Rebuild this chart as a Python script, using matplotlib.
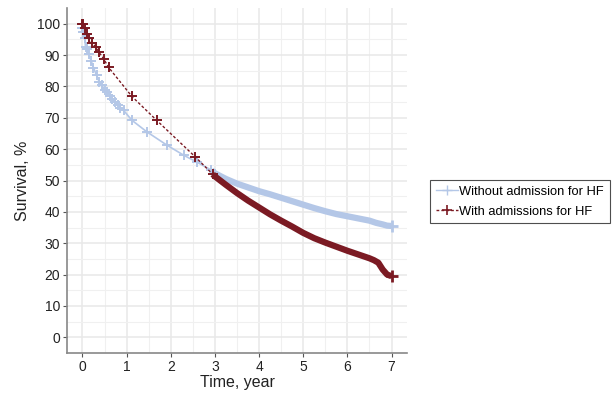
import matplotlib
matplotlib.use("Agg")
import matplotlib.pyplot as plt
from matplotlib.lines import Line2D
import numpy as np

plt.rcParams["font.family"] = ["Liberation Sans", "DejaVu Sans"]

# Without admission for HF
t_without = [0.0, 0.02, 0.05, 0.07, 0.1, 0.14, 0.2, 0.25, 0.32, 0.38, 0.44, 0.5, 0.56, 0.62, 0.68,
             0.74, 0.8, 0.86, 0.93, 1.12, 1.46, 1.91, 2.3, 2.6, 2.92,
             3.0, 3.25, 3.5, 3.75, 4.0, 4.25, 4.5, 4.75, 5.0, 5.25, 5.5, 5.75, 6.0, 6.25, 6.5,
             6.65, 6.8, 6.9, 7.0]
s_without = [98.5, 97.5, 95.5, 92.5, 92.0, 90.4, 88.0, 86.0, 83.5, 81.5, 80.3, 79.0, 78.2, 77.0, 76.0,
             75.0, 74.0, 73.2, 72.4, 69.2, 65.5, 61.3, 58.0, 55.8, 53.3,
             52.3, 50.5, 49.0, 47.8, 46.6, 45.6, 44.5, 43.4, 42.3, 41.2, 40.2, 39.3, 38.6, 37.9, 37.2,
             36.5, 36.0, 35.6, 35.5]

# With admissions for HF
t_with = [0.0, 0.01, 0.05, 0.1, 0.15, 0.22, 0.3, 0.37, 0.48, 0.59, 1.12, 1.68, 2.55, 2.95,
          3.0, 3.25, 3.5, 3.75, 4.0, 4.25, 4.5, 4.75, 5.0, 5.25, 5.5, 5.75, 6.0, 6.25, 6.5,
          6.6, 6.7, 6.8, 6.9, 7.0]
s_with = [100.0, 99.9, 98.5, 96.7, 95.5, 94.0, 92.5, 91.0, 88.8, 86.1, 76.8, 69.2, 57.6, 52.0,
          51.3, 48.6, 46.0, 43.6, 41.4, 39.2, 37.2, 35.3, 33.3, 31.6, 30.2, 28.9, 27.6, 26.4, 25.2,
          24.6, 23.8, 21.6, 20.0, 19.5]

x_ticks = [0, 1, 2, 3, 4, 5, 6, 7]
y_ticks = [0, 10, 20, 30, 40, 50, 60, 70, 80, 90, 100]

blue = "#b4c7e7"
red = "#7b1a23"

fig = plt.figure(figsize=(6.16, 3.93), dpi=100)
ax = fig.add_axes([67/616, 1-353/393, (407-67)/616, (353-8)/393])

ax.set_xlim(-0.35, 7.35)
ax.set_ylim(-5, 105)

ax.set_xticks(x_ticks)
ax.set_yticks(y_ticks)
ax.set_xticks(np.arange(0.5, 7, 1), minor=True)
ax.set_yticks(np.arange(5, 100, 10), minor=True)
ax.grid(True, which="major", color="#e8e8e8", lw=1.1)
ax.grid(True, which="minor", color="#f0f0f0", lw=0.8)
ax.set_axisbelow(True)
ax.tick_params(which="minor", length=0)
ax.tick_params(which="major", length=3, color="#555555", labelsize=10, labelcolor="#222222", pad=2)

for side in ["top", "right"]:
    ax.spines[side].set_visible(False)
for side in ["left", "bottom"]:
    ax.spines[side].set_color("#888888")
    ax.spines[side].set_linewidth(1.2)

tw = np.array(t_without); sw = np.array(s_without)
tr = np.array(t_with); sr = np.array(s_with)

# without
ax.plot(tw, sw, color=blue, lw=1.2, ls="-", zorder=3)
m = tw < 2.95
ax.plot(tw[m], sw[m], ls="none", marker="+", ms=7, mew=1.4, color=blue, zorder=3)
m2 = tw >= 2.92
ax.plot(tw[m2], sw[m2], color=blue, lw=4.5, solid_capstyle="butt", zorder=3)

# with
ax.plot(tr, sr, color=red, lw=1.0, ls=(0, (2, 1.5)), zorder=4)
m = tr < 2.96
ax.plot(tr[m], sr[m], ls="none", marker="+", ms=7, mew=1.4, color=red, zorder=4)
m2 = tr >= 2.95
ax.plot(tr[m2], sr[m2], color=red, lw=4.5, solid_capstyle="butt", zorder=4)
ax.plot([7.0], [19.5], marker="+", ms=8, mew=2, color=red, zorder=4)
ax.plot([7.0], [35.5], marker="+", ms=8, mew=2, color=blue, zorder=3)

ax.set_xlabel("Time, year", fontsize=11.5, color="#222222", labelpad=1)
ax.set_ylabel("Survival, %", fontsize=11.5, color="#222222", labelpad=5)

handles = [
    Line2D([], [], color=blue, lw=1.0, marker="+", ms=7, mew=1.0),
    Line2D([], [], color=red, lw=1.0, ls=(0, (2, 1.5)), marker="+", ms=7, mew=1.2),
]
leg = fig.legend(handles, ["Without admission for HF", "With admissions for HF"],
                 loc="upper left", bbox_to_anchor=(430/616, 1-180/393), fontsize=9.3,
                 frameon=True, fancybox=False, edgecolor="#222222", handlelength=1.7,
                 handletextpad=0.1, borderpad=0.45, labelspacing=0.6, borderaxespad=0)
leg.get_frame().set_linewidth(0.8)

fig.savefig("out.png", dpi=100)
